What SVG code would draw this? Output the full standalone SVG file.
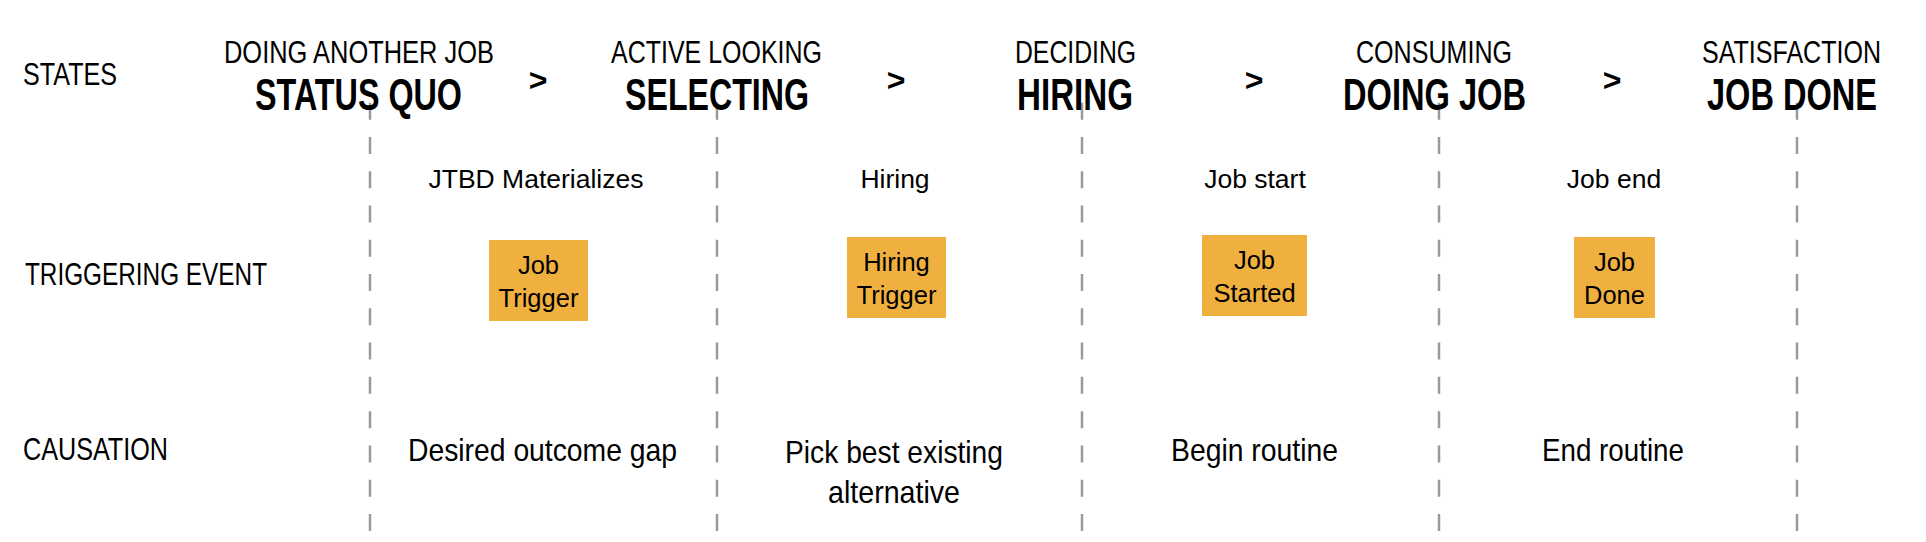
<svg xmlns="http://www.w3.org/2000/svg" width="1926" height="542" viewBox="0 0 1926 542">
<style>
.bg{fill:#ffffff}
.div{stroke:#9a9a9a;stroke-width:2.5;stroke-dasharray:17 17.27;fill:none}
.cond{font-family:"Liberation Sans",Arial,sans-serif;font-size:32px;fill:#000}
.condb{font-family:"Liberation Sans",Arial,sans-serif;font-size:45px;font-weight:bold;fill:#000}
.arr{font-family:"Liberation Sans",Arial,sans-serif;font-size:32px;font-weight:bold;fill:#000;text-anchor:middle}
.lbl{font-family:"Liberation Sans",Arial,sans-serif;font-size:26.5px;fill:#000;text-anchor:middle}
.box{fill:#F0B03F}
.bt{font-family:"Liberation Sans",Arial,sans-serif;font-size:25.5px;fill:#000;text-anchor:middle}
</style>
<rect class="bg" x="0" y="0" width="1926" height="542"/>
<g id="dividers">
<line class="div" x1="370" y1="102.7" x2="370" y2="531"/>
<line class="div" x1="717" y1="102.7" x2="717" y2="531"/>
<line class="div" x1="1082" y1="102.7" x2="1082" y2="531"/>
<line class="div" x1="1439" y1="102.7" x2="1439" y2="531"/>
<line class="div" x1="1797" y1="102.7" x2="1797" y2="531"/>
</g>
<g id="row-labels">
<text class="cond" x="23" y="85" textLength="94" lengthAdjust="spacingAndGlyphs">STATES</text>
<text class="cond" x="25" y="285" textLength="242" lengthAdjust="spacingAndGlyphs">TRIGGERING EVENT</text>
<text class="cond" x="23" y="460" textLength="145" lengthAdjust="spacingAndGlyphs">CAUSATION</text>
</g>
<g id="state-status-quo">
<text class="cond" x="224" y="63" textLength="270" lengthAdjust="spacingAndGlyphs">DOING ANOTHER JOB</text>
<text class="condb" x="255" y="110" textLength="207" lengthAdjust="spacingAndGlyphs">STATUS QUO</text>
</g>
<g id="state-selecting">
<text class="cond" x="611" y="63" textLength="211" lengthAdjust="spacingAndGlyphs">ACTIVE LOOKING</text>
<text class="condb" x="625" y="110" textLength="184" lengthAdjust="spacingAndGlyphs">SELECTING</text>
</g>
<g id="state-hiring">
<text class="cond" x="1015" y="63" textLength="121" lengthAdjust="spacingAndGlyphs">DECIDING</text>
<text class="condb" x="1017" y="110" textLength="116" lengthAdjust="spacingAndGlyphs">HIRING</text>
</g>
<g id="state-doing-job">
<text class="cond" x="1356" y="63" textLength="156" lengthAdjust="spacingAndGlyphs">CONSUMING</text>
<text class="condb" x="1343" y="110" textLength="183" lengthAdjust="spacingAndGlyphs">DOING JOB</text>
</g>
<g id="state-job-done">
<text class="cond" x="1702" y="63" textLength="179" lengthAdjust="spacingAndGlyphs">SATISFACTION</text>
<text class="condb" x="1707" y="110" textLength="170" lengthAdjust="spacingAndGlyphs">JOB DONE</text>
</g>
<g id="connectors">
<text class="arr" x="538" y="91">&gt;</text>
<text class="arr" x="896" y="91">&gt;</text>
<text class="arr" x="1254" y="91">&gt;</text>
<text class="arr" x="1612" y="91">&gt;</text>
</g>
<g id="event-job-trigger">
<text class="lbl" x="536" y="188">JTBD Materializes</text>
<rect class="box" x="489" y="240" width="99" height="81"/>
<text class="bt" x="538.5" y="274">Job</text>
<text class="bt" x="538.5" y="307">Trigger</text>
</g>
<g id="event-hiring-trigger">
<text class="lbl" x="895" y="188">Hiring</text>
<rect class="box" x="847" y="237" width="99" height="81"/>
<text class="bt" x="896.5" y="271">Hiring</text>
<text class="bt" x="896.5" y="304">Trigger</text>
</g>
<g id="event-job-started">
<text class="lbl" x="1255" y="188">Job start</text>
<rect class="box" x="1202" y="235" width="105" height="81"/>
<text class="bt" x="1254.5" y="269">Job</text>
<text class="bt" x="1254.5" y="302">Started</text>
</g>
<g id="event-job-done">
<text class="lbl" x="1614" y="188">Job end</text>
<rect class="box" x="1574" y="237" width="81" height="81"/>
<text class="bt" x="1614.5" y="271">Job</text>
<text class="bt" x="1614.5" y="304">Done</text>
</g>
<g id="cause-desired-outcome-gap">
<text class="cond" x="408" y="461" textLength="269" lengthAdjust="spacingAndGlyphs">Desired outcome gap</text>
</g>
<g id="cause-pick-best">
<text class="cond" x="785" y="463" textLength="218" lengthAdjust="spacingAndGlyphs">Pick best existing</text>
<text class="cond" x="828" y="503" textLength="132" lengthAdjust="spacingAndGlyphs">alternative</text>
</g>
<g id="cause-begin-routine">
<text class="cond" x="1171" y="461" textLength="167" lengthAdjust="spacingAndGlyphs">Begin routine</text>
</g>
<g id="cause-end-routine">
<text class="cond" x="1542" y="461" textLength="142" lengthAdjust="spacingAndGlyphs">End routine</text>
</g>
</svg>
